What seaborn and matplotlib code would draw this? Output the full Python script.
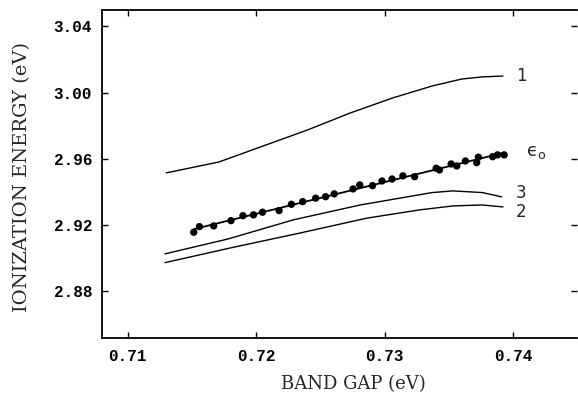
import matplotlib
matplotlib.use("Agg")
import matplotlib.pyplot as plt
import seaborn as sns
import numpy as np
import pandas as pd

# ---- data ----
curve1_x = [0.7130, 0.7171, 0.7203, 0.7240, 0.7273, 0.7306, 0.7337, 0.7360, 0.7376, 0.7392]
curve1_y = [2.9514, 2.9580, 2.9670, 2.9774, 2.9876, 2.9967, 3.0040, 3.0082, 3.0095, 3.0100]

curve3_x = [0.7129, 0.7178, 0.7229, 0.7281, 0.7337, 0.7353, 0.7376, 0.7391]
curve3_y = [2.9024, 2.9114, 2.9230, 2.9320, 2.9395, 2.9405, 2.9395, 2.9369]

curve2_x = [0.7129, 0.7180, 0.7234, 0.7286, 0.7327, 0.7353, 0.7376, 0.7392]
curve2_y = [2.8971, 2.9060, 2.9150, 2.9240, 2.9290, 2.9314, 2.9320, 2.9308]

eps_x = [0.71514, 0.71558, 0.71669, 0.71804, 0.71897, 0.71979, 0.72049, 0.72178,
         0.72274, 0.72362, 0.72463, 0.72540, 0.72607, 0.72754, 0.72806, 0.72905,
         0.72979, 0.73057, 0.73142, 0.73233, 0.73401, 0.73426, 0.73517, 0.73561,
         0.73628, 0.73716, 0.73729, 0.73840, 0.73878, 0.73930]
eps_y = [2.9155, 2.9189, 2.9193, 2.9225, 2.9255, 2.9260, 2.9276, 2.9286,
         2.9324, 2.9340, 2.9361, 2.9370, 2.9387, 2.9417, 2.9441, 2.9437,
         2.9465, 2.9477, 2.9496, 2.9491, 2.9542, 2.9532, 2.9568, 2.9556,
         2.9586, 2.9576, 2.9609, 2.9612, 2.9623, 2.9623]

curve_labels = ["1", "3", "2", "\u03f5$_{\\mathrm{o}}$"]
label_x = [0.7402, 0.7402, 0.7402, 0.7410]
label_y = [3.0100, 2.9390, 2.9280, 2.9640]

x_ticks = [0.71, 0.72, 0.73, 0.74]
y_ticks = [2.88, 2.92, 2.96, 3.00, 3.04]

# ---- plot ----
sns.set_style("ticks")
plt.rcParams['font.family'] = ['DejaVu Serif', 'DejaVu Sans']
plt.rcParams['mathtext.fontset'] = 'dejavusans'

fig = plt.figure(figsize=(5.78, 3.98), dpi=100)
ax = fig.add_axes([0.1765, 0.1508, 0.8225, 0.8242])

for cx, cy in [(curve1_x, curve1_y), (curve3_x, curve3_y), (curve2_x, curve2_y)]:
    df = pd.DataFrame({"x": cx, "y": cy})
    sns.lineplot(data=df, x="x", y="y", ax=ax, color="black", linewidth=1.0,
                 sort=False, estimator=None)

df_eps = pd.DataFrame({"x": eps_x, "y": eps_y})
sns.regplot(data=df_eps, x="x", y="y", ax=ax, ci=None, color="black",
            scatter_kws={"s": 28, "edgecolor": "none", "alpha": 1},
            line_kws={"linewidth": 1.3})

for t, lx, ly in zip(curve_labels, label_x, label_y):
    fs = 13 if t.startswith("\u03f5") else 12
    ax.text(lx, ly, t, fontsize=fs, va="center", ha="left",
            family="DejaVu Sans")

ax.set_xlim(0.708, 0.745)
ax.set_ylim(2.8515, 3.050)
ax.set_xticks(x_ticks)
ax.set_yticks(y_ticks)
ax.set_xticklabels([f"{v:.2f}" for v in x_ticks])
ax.set_yticklabels([f"{v:.2f}" for v in y_ticks])

ax.tick_params(direction="in", length=4, width=1.0, top=True, right=True,
               labelsize=11.5, colors="black")
ax.tick_params(axis="x", pad=8)
ax.tick_params(axis="y", pad=7)
for lab in ax.get_xticklabels() + ax.get_yticklabels():
    lab.set_family("Liberation Mono")
    lab.set_fontweight("bold")

for s in ["left", "bottom", "top"]:
    ax.spines[s].set_linewidth(1.3)
    ax.spines[s].set_color("black")
ax.spines["right"].set_visible(False)

ax.set_xlabel("BAND GAP (eV)", fontsize=13)
ax.set_ylabel("IONIZATION ENERGY (eV)", fontsize=14)
ax.xaxis.set_label_coords(0.528, -0.113)
ax.yaxis.set_label_coords(-0.149, 0.49)

fig.savefig("out.png", dpi=100)
